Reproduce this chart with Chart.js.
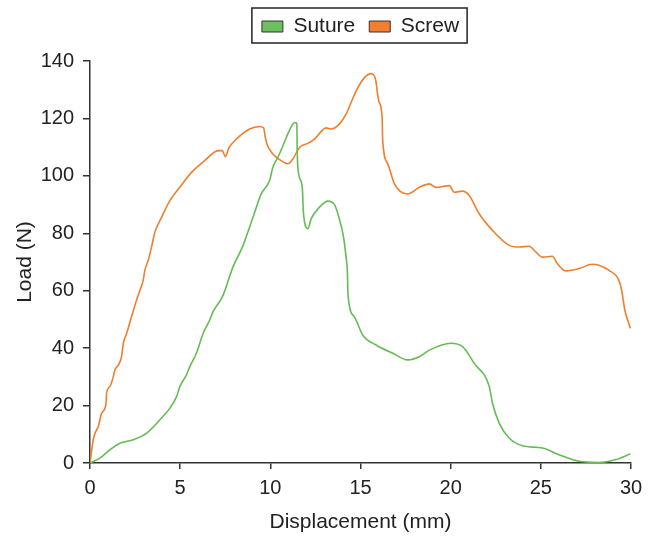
<!DOCTYPE html>
<html>
<head>
    <title>Load vs Displacement</title>
    <script src="https://cdn.jsdelivr.net/npm/chart.js"></script>
    <style>
        body {
            margin: 0;
            background-color: #ffffff;
        }

        #chart-wrapper {
            width: 653px;
            height: 538px;
        }
    </style>
</head>
<body>

    <div id="chart-wrapper">
        <canvas id="chart"></canvas>
    </div>

    <script>
        const seriesLabels = ['Suture', 'Screw'];

        const sutureX = [0, 0.55, 1.1, 1.66, 2.4, 3.14, 3.87, 4.43, 4.8, 4.98, 5.35, 5.53, 5.9, 6.27, 6.64,
            6.82, 7.38, 7.93, 8.49, 9.04, 9.5, 9.96, 10.14, 10.42, 10.7, 10.97, 11.25, 11.4, 11.47, 11.49,
            11.57, 11.77, 11.84, 12.08, 12.27, 12.73, 13.19, 13.56, 13.8, 14.06, 14.2, 14.27, 14.31, 14.66, 15.13,
            15.86, 16.79, 17.62, 18.26, 18.82, 20.01, 20.66, 21.31, 22.14, 22.32, 22.69, 23.24, 23.98, 25.09, 26.01,
            27.12, 28.22, 29.14, 29.97];
        const sutureLoad = [0, 1.7, 4.6, 6.9, 8.1, 10.4, 15, 19.1, 23.1, 26.6, 30.7, 33.5, 38.2, 45.1, 49.8,
            52.6, 58.4, 68.3, 75.8, 85.6, 93.8, 98.4, 103, 106.5, 110.5, 114.6, 118.1, 118.6, 118.1, 108.8,
            100.7, 96, 86.8, 81.6, 85.1, 89.1, 91.2, 90, 85.6, 78.7, 71.7, 67.1, 58.4, 50.9, 44.5,
            41.1, 38.2, 35.9, 37, 39.3, 41.7, 40.5, 34.7, 26.6, 20.8, 13.9, 8.7, 6, 5.2, 2.9,
            0.6, 0.2, 1.1, 3.2];

        const screwX = [0, 0.18, 0.28, 0.46, 0.65, 0.89, 0.92, 1.1, 1.29, 1.38, 1.57, 1.75, 1.85, 2.03, 2.3,
            2.58, 2.77, 2.95, 3.04, 3.23, 3.41, 3.6, 3.97, 4.43, 4.98, 5.63, 6.36, 7.1, 7.34, 7.5,
            7.7, 8.12, 8.85, 9.41, 9.63, 9.72, 9.85, 10.14, 10.6, 10.97, 11.25, 11.62, 12.08, 12.45, 13.1,
            13.37, 13.84, 14.2, 14.76, 15.22, 15.59, 15.83, 16.01, 16.2, 16.23, 16.51, 16.88, 17.2, 17.62, 18.26,
            18.82, 19.19, 19.92, 20.2, 20.66, 21.03, 21.58, 22.32, 23.24, 23.8, 24.35, 24.72, 25.09, 25.64, 25.92,
            26.38, 27.12, 27.85, 28.22, 28.78, 29.33, 29.48, 29.66, 29.97];
        const screwLoad = [0, 8.1, 10.4, 12.7, 17.4, 20.8, 24.3, 26.6, 30, 32.4, 34.1, 37, 41.7, 45.1, 50.9,
            56.7, 60.2, 63.6, 67.1, 70.6, 75.2, 80.4, 85.6, 91.4, 96, 101.2, 105.3, 108.8, 108.8, 106.7,
            109.7, 112.8, 116.3, 117.2, 116.7, 113.4, 110.5, 107.6, 105.3, 104.2, 105.9, 109.9, 111.3, 112.8, 116.7,
            116.3, 118.1, 121.5, 129.6, 134.2, 135.6, 133.7, 126.1, 120.3, 112.3, 104.2, 97.2, 94.6, 93.7, 96,
            97.2, 96, 96.6, 94.3, 94.7, 93.2, 86.8, 81, 75.8, 75.2, 75.5, 73.5, 71.7, 72, 69.4,
            66.9, 67.7, 69.2, 68.9, 67.1, 63.6, 60.2, 53.2, 46.9];

        const xTicks = [0, 5, 10, 15, 20, 25, 30];
        const yTicks = [0, 20, 40, 60, 80, 100, 120, 140];

        const axisColor = '#333333';
        const fontFamily = '"Liberation Sans", Arial, sans-serif';

        function toPoints(xs, ys) {
            return xs.map((x, i) => ({ x: x, y: ys[i] }));
        }

        // extra room under the legend, and a frame round it
        const legendFrame = {
            id: 'legendFrame',
            beforeInit(chart) {
                const fit = chart.legend.fit;
                chart.legend.fit = function () {
                    fit.call(this);
                    this.height += 14;
                };
            },
            afterDraw(chart) {
                const boxes = chart.legend.legendHitBoxes;
                if (!boxes || !boxes.length) return;
                const left = Math.min(...boxes.map(b => b.left));
                const right = Math.max(...boxes.map(b => b.left + b.width));
                const top = Math.min(...boxes.map(b => b.top));
                const bottom = Math.max(...boxes.map(b => b.top + b.height));
                const ctx = chart.ctx;
                ctx.save();
                ctx.strokeStyle = '#222222';
                ctx.lineWidth = 1.5;
                ctx.strokeRect(left - 10, top - 8, right - left + 18, bottom - top + 14);
                ctx.restore();
            }
        };

        const ctx = document.getElementById('chart').getContext('2d');
        new Chart(ctx, {
            type: 'line',
            data: {
                datasets: [{
                    label: seriesLabels[0],
                    data: toPoints(sutureX, sutureLoad),
                    borderColor: '#66bb55',
                    backgroundColor: '#6cc060',
                    borderWidth: 1.6,
                    pointRadius: 0,
                    cubicInterpolationMode: 'monotone'
                }, {
                    label: seriesLabels[1],
                    data: toPoints(screwX, screwLoad),
                    borderColor: '#ef7f2f',
                    backgroundColor: '#f08030',
                    borderWidth: 1.6,
                    pointRadius: 0,
                    cubicInterpolationMode: 'monotone'
                }]
            },
            options: {
                responsive: true,
                maintainAspectRatio: false,
                animation: false,
                layout: {
                    padding: { top: 2, right: 22, bottom: 0, left: 0 }
                },
                scales: {
                    x: {
                        type: 'linear',
                        min: 0,
                        max: 30,
                        afterBuildTicks: scale => { scale.ticks = xTicks.map(v => ({ value: v })); },
                        afterFit: scale => { scale.height = 75; },
                        border: { color: axisColor, width: 1.5 },
                        grid: { drawOnChartArea: false, color: axisColor, tickLength: 6, lineWidth: 1.5 },
                        ticks: { color: '#222222', padding: 7, font: { family: fontFamily, size: 20 } },
                        title: {
                            display: true,
                            text: 'Displacement (mm)',
                            color: '#222222',
                            padding: { top: 4, bottom: 3 },
                            font: { family: fontFamily, size: 21 }
                        }
                    },
                    y: {
                        min: 0,
                        max: 140,
                        afterBuildTicks: scale => { scale.ticks = yTicks.map(v => ({ value: v })); },
                        afterFit: scale => { scale.width = 90; },
                        border: { color: axisColor, width: 1.5 },
                        grid: { drawOnChartArea: false, color: axisColor, tickLength: 7, lineWidth: 1.5 },
                        ticks: { color: '#222222', padding: 9, font: { family: fontFamily, size: 20 } },
                        title: {
                            display: true,
                            text: 'Load (N)',
                            color: '#222222',
                            padding: { top: 13, bottom: 0 },
                            font: { family: fontFamily, size: 21 }
                        }
                    }
                },
                plugins: {
                    legend: {
                        fullSize: false,
                        labels: {
                            color: '#222222',
                            boxWidth: 21,
                            boxHeight: 11,
                            padding: 14,
                            font: { family: fontFamily, size: 21 },
                            generateLabels: chart => Chart.defaults.plugins.legend.labels.generateLabels(chart)
                                .map(item => Object.assign(item, { strokeStyle: '#333333', lineWidth: 1 }))
                        }
                    },
                    tooltip: { enabled: false }
                }
            },
            plugins: [legendFrame]
        });
    </script>
</body>
</html>
